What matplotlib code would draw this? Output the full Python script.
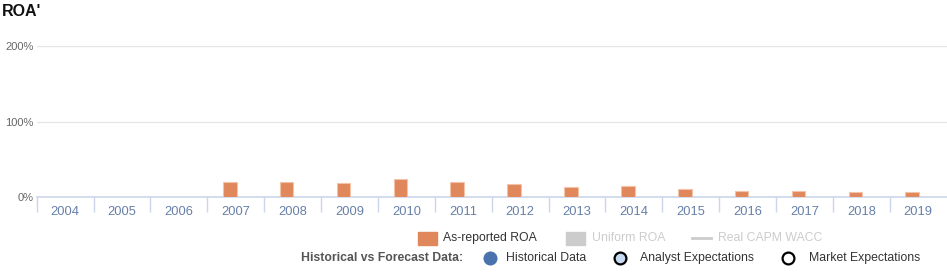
import matplotlib
matplotlib.use('Agg')
import matplotlib.pyplot as plt
from matplotlib.patches import Rectangle
from matplotlib.lines import Line2D
import numpy as np

plt.rcParams['font.family'] = ['Liberation Sans', 'DejaVu Sans']

# data
years = ['2004', '2005', '2006', '2007', '2008', '2009', '2010', '2011',
         '2012', '2013', '2014', '2015', '2016', '2017', '2018', '2019']
roa_reported = [np.nan, np.nan, np.nan, 20.3, 20.3, 19.0, 23.8, 20.3,
                17.2, 13.7, 15.4, 10.6, 8.8, 8.8, 7.0, 7.0]
y_ticks = [0, 100, 200]
y_ticklabels = ['0%', '100%', '200%']

W, H = 947, 274
fig = plt.figure(figsize=(W / 100, H / 100), dpi=100)
ax = fig.add_axes([36.7 / W, (H - 197.3) / H, 910 / W, (197.3 - 46) / H])

x = np.arange(len(years))
ax.bar(x - 0.106, roa_reported, width=0.24, color='#e0875b',
       edgecolor='#f3c3a8', linewidth=0.8, zorder=3)

ax.set_xlim(-0.5, len(years) - 0.5)
ax.set_ylim(0, 200)
ax.set_yticks(y_ticks)
ax.set_yticklabels(y_ticklabels, fontsize=8, color='#666666')
ax.tick_params(axis='y', length=0, pad=2)
ax.grid(axis='y', color='#e6e6e6', linewidth=1, zorder=0)

ax.set_xticks(x)
ax.set_xticklabels(years, fontsize=9.3, color='#6680a8')
ax.tick_params(axis='x', which='major', length=0, pad=6)
ax.set_xticks(np.arange(-0.5, len(years) - 0.5, 1), minor=True)
ax.tick_params(axis='x', which='minor', length=11, color='#ccd6eb', width=1)

for s in ['top', 'right', 'left']:
    ax.spines[s].set_visible(False)
ax.spines['bottom'].set_color('#ccd6eb')
ax.spines['bottom'].set_linewidth(1.2)

# title
fig.text(2 / W, 1 - 12 / H, "ROA'", fontsize=11.5, fontweight='bold',
         color='#111111', va='center', ha='left')

# legend row 1
def px(xp, yp):
    return xp / W, 1 - yp / H

ly1 = 238
fig.patches.append(Rectangle(px(418, ly1 + 6.5), 19 / W, 13 / H,
                             transform=fig.transFigure, color='#e0875b'))
fig.text(*px(443, ly1), 'As-reported ROA', fontsize=8.8, color='#333333', va='center')
fig.patches.append(Rectangle(px(566, ly1 + 6.5), 19 / W, 13 / H,
                             transform=fig.transFigure, color='#cccccc'))
fig.text(*px(592, ly1), 'Uniform ROA', fontsize=8.8, color='#cccccc', va='center')
fig.lines.append(Line2D([692 / W, 711 / W], [1 - ly1 / H, 1 - ly1 / H],
                        transform=fig.transFigure, color='#cccccc', linewidth=2))
fig.text(*px(718, ly1), 'Real CAPM WACC', fontsize=8.8, color='#cccccc', va='center')

# legend row 2
ly2 = 258
fig.text(*px(301, ly2), 'Historical vs Forecast Data:', fontsize=8.8,
         fontweight='bold', color='#555555', va='center')
for cx, fc, tx, label in [(490, '#4a73ae', 506, 'Historical Data'),
                          (620, '#c6dbf2', 640, 'Analyst Expectations'),
                          (788, '#ffffff', 809, 'Market Expectations')]:
    ec = fc if label == 'Historical Data' else '#000000'
    fig.lines.append(Line2D([cx / W], [1 - ly2 / H], transform=fig.transFigure,
                            marker='o', markersize=8.5, markerfacecolor=fc,
                            markeredgecolor=ec, markeredgewidth=1.6, linestyle='none'))
    fig.text(*px(tx, ly2), label, fontsize=8.8, color='#333333', va='center')

fig.savefig('out.png', dpi=100)
